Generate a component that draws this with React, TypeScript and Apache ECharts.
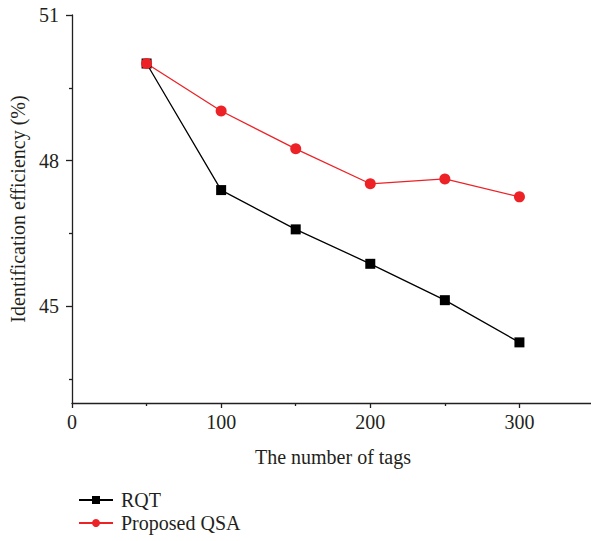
import React, { useEffect, useRef } from "react";
import * as echarts from "echarts";

const tags = [50, 100, 150, 200, 250, 300];
const rqt = [50.0, 47.39, 46.58, 45.87, 45.12, 44.25];
const qsa = [50.0, 49.02, 48.24, 47.52, 47.62, 47.25];
const yLabels = [45, 48, 51];
const yMinor = [43.5, 46.5, 49.5];

const FONT = "Liberation Serif";
const FS = 20;

export default function App() {
  const ref = useRef<HTMLDivElement>(null);
  useEffect(() => {
    document.body.style.margin = "0";
    const chart = echarts.init(ref.current!, null, { renderer: "svg" });
    chart.setOption({
      animation: false,
      backgroundColor: "#ffffff",
      textStyle: { fontFamily: FONT },
      grid: { left: 72, top: 15, width: 522, height: 388, containLabel: false, outerBoundsMode: "none" },
      legend: {
        orient: "vertical",
        left: 73,
        top: 485,
        itemWidth: 34,
        itemHeight: 10,
        itemGap: 3,
        textStyle: { fontFamily: FONT, fontSize: FS, color: "#231f20", padding: [0, 0, 0, 3] },
        data: ["RQT", "Proposed QSA"],
      },
      xAxis: {
        type: "value",
        min: 0,
        max: 350,
        interval: 100,
        name: "The number of tags",
        nameLocation: "middle",
        nameGap: 44,
        nameTextStyle: { fontFamily: FONT, fontSize: FS, color: "#231f20" },
        axisLine: { show: true, lineStyle: { color: "#231f20", width: 1.3 } },
        axisTick: { show: true, length: 5, lineStyle: { color: "#231f20", width: 1.3 } },
        minorTick: { show: true, splitNumber: 2, length: 3, lineStyle: { color: "#231f20", width: 1.3 } },
        axisLabel: {
          fontFamily: FONT,
          fontSize: FS,
          color: "#231f20",
          margin: 9,
          formatter: (v: number) => (v > 300 ? "" : String(v)),
        },
        splitLine: { show: false },
      },
      yAxis: [
        {
          type: "value",
          min: 43,
          max: 51,
          name: "Identification efficiency (%)",
          nameLocation: "middle",
          nameGap: 44,
          nameTextStyle: { fontFamily: FONT, fontSize: FS, color: "#231f20" },
          axisLine: { show: true, lineStyle: { color: "#231f20", width: 1.3 } },
          axisTick: { show: true, length: 6, customValues: yLabels, lineStyle: { color: "#231f20", width: 1.3 } },
          axisLabel: { fontFamily: FONT, fontSize: FS, color: "#231f20", margin: 13, customValues: yLabels },
          splitLine: { show: false },
        },
        {
          type: "value",
          min: 43,
          max: 51,
          position: "left",
          axisLine: { show: false },
          axisTick: { show: true, length: 3, customValues: yMinor, lineStyle: { color: "#231f20", width: 1.3 } },
          axisLabel: { show: false },
          splitLine: { show: false },
        },
      ],
      series: [
        {
          name: "RQT",
          type: "line",
          data: tags.map((t, i) => [t, rqt[i]]),
          symbol: "rect",
          symbolSize: 10,
          itemStyle: { color: "#000000" },
          lineStyle: { color: "#000000", width: 1.3 },
        },
        {
          name: "Proposed QSA",
          type: "line",
          data: tags.map((t, i) => [t, qsa[i]]),
          symbol: "circle",
          symbolSize: 11,
          itemStyle: { color: "#ec2227" },
          lineStyle: { color: "#ec2227", width: 1.3 },
        },
      ],
    });
    return () => chart.dispose();
  }, []);
  return <div ref={ref} style={{ width: 591, height: 541 }} />;
}
